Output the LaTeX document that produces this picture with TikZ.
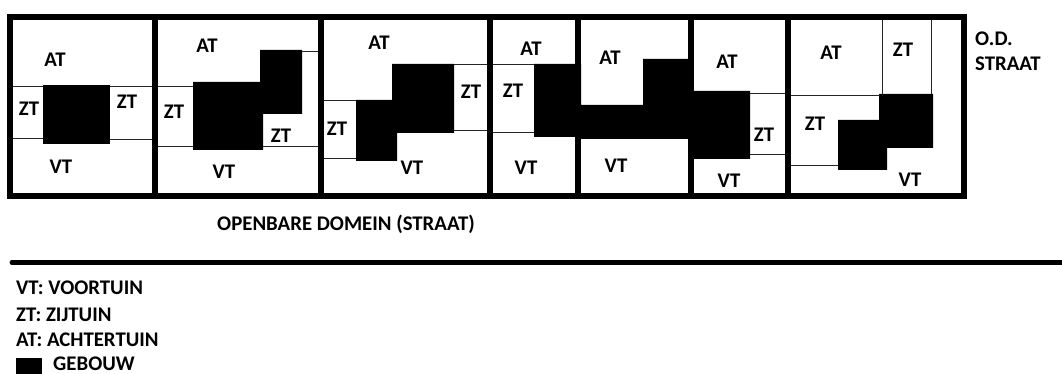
\documentclass[tikz,border=0pt]{standalone}
\usepackage{fontspec}
\setmainfont{Carlito}
\tikzset{
  lab/.style={font=\fontsize{20.8}{24}\selectfont\bfseries, inner sep=0pt, text=black},
  leg/.style={lab, anchor=west},
  wall/.style={line width=6pt, draw=black},
  border/.style={line width=1pt, draw=black!85},
  gebouw/.style={fill=black, draw=none}
}
\begin{document}
\begin{tikzpicture}[x=1pt,y=-1pt]
\useasboundingbox (0,0) rectangle (1062,374);
% buildings
\fill[gebouw] (43,85) rectangle (110,144);
\fill[gebouw] (193,82)--(260,82)--(260,50)--(302,50)--(302,114)--(263,114)--(263,150)--(193,150)--cycle;
\fill[gebouw] (392,64)--(454,64)--(454,133)--(397,133)--(397,161)--(356,161)--(356,100)--(392,100)--cycle;
\fill[gebouw] (534,64)--(581,64)--(581,105)--(643,105)--(643,59)--(693,59)--(693,91)--(750,91)--(750,159)--(688,159)--(688,139)--(575,139)--(575,137)--(534,137)--cycle;
\fill[gebouw] (879,94)--(933,94)--(933,148)--(887,148)--(887,170)--(838,170)--(838,120)--(879,120)--cycle;
% thin garden borders
\draw[border] (12,87)--(43,87) (110,87)--(152,87) (12,139)--(43,139) (110,140)--(152,140);
\draw[border] (302,52)--(318,52) (157,87)--(193,87) (157,147)--(193,147) (263,147)--(318,147);
\draw[border] (323,101)--(356,101) (323,159)--(356,159) (454,65)--(487,65) (454,131)--(487,131);
\draw[border] (492,65)--(534,65) (492,133)--(534,133);
\draw[border] (750,94)--(785,94) (750,155)--(785,155);
\draw[border] (790,96)--(880,96) (790,166)--(838,166) (882,19)--(882,94) (931,19)--(931,94);
% walls
\draw[wall] (9.5,17) rectangle (963.5,196);
\draw[wall] (154.5,17)--(154.5,196) (320.5,17)--(320.5,196) (489.5,17)--(489.5,196) (787.5,17)--(787.5,196);
\draw[wall] (578,17)--(578,64) (578,139)--(578,196);
\draw[wall] (690.5,17)--(690.5,91) (690.5,159)--(690.5,196);
% labels
\node[lab] (a1) at (55,60) {AT};
\node[lab] (z1a) at (29,109) {ZT};
\node[lab] (z1b) at (127,102) {ZT};
\node[lab] (v1) at (61,167) {VT};
\node[lab] (a2) at (207,46) {AT};
\node[lab] (z2a) at (174,112) {ZT};
\node[lab] (z2b) at (281,136) {ZT};
\node[lab] (v2) at (224,172) {VT};
\node[lab] (a3) at (379,43) {AT};
\node[lab] (z3a) at (471,92) {ZT};
\node[lab] (z3b) at (337,129) {ZT};
\node[lab] (v3) at (412,168) {VT};
\node[lab] (a4) at (531,49) {AT};
\node[lab] (z4) at (513,91) {ZT};
\node[lab] (v4) at (526,168) {VT};
\node[lab] (a5) at (610,58) {AT};
\node[lab] (v5) at (616,166) {VT};
\node[lab] (a6) at (727,62) {AT};
\node[lab] (z6) at (764,135) {ZT};
\node[lab] (v6) at (729,181) {VT};
\node[lab] (a7) at (831,53) {AT};
\node[lab] (z7a) at (903,50) {ZT};
\node[lab] (z7b) at (815,124) {ZT};
\node[lab] (v7) at (910,180) {VT};
\node[leg] (od) at (975,39) {O.D.};
\node[leg] (st) at (975,64) {STRAAT};
\node[lab] (ob) at (346,224) {OPENBARE DOMEIN (STRAAT)};
% separator
\draw[line width=5pt, line cap=round, draw=black] (12,262.5)--(1064,262.5);
% legend
\node[leg] (lv) at (16,288) {VT: VOORTUIN};
\node[leg] (lz) at (16,315) {ZT: ZIJTUIN};
\node[leg] (la) at (16,340) {AT: ACHTERTUIN};
\fill[gebouw] (16,358) rectangle (42,374);
\node[leg] (lg) at (53,363.5) {GEBOUW};
\end{tikzpicture}
\end{document}
